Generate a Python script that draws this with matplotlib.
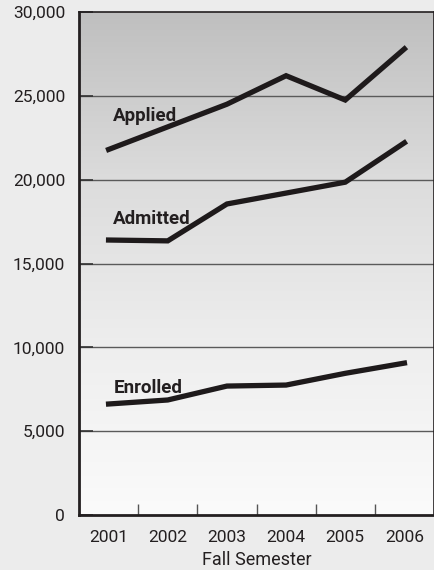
import numpy as np
import matplotlib
matplotlib.use("Agg")
import matplotlib.pyplot as plt
from matplotlib.colors import LinearSegmentedColormap

years = ["2001", "2002", "2003", "2004", "2005", "2006"]
applied = [21800, 23150, 24500, 26200, 24750, 27800]
admitted = [16400, 16350, 18550, 19200, 19850, 22200]
enrolled = [6620, 6860, 7690, 7750, 8450, 9060]
series_labels = ["Applied", "Admitted", "Enrolled"]
label_y = [23800, 17650, 7570]
yticks = [0, 5000, 10000, 15000, 20000, 25000, 30000]
xlabel = "Fall Semester"

plt.rcParams["font.family"] = ["Roboto", "DejaVu Sans"]

fig = plt.figure(figsize=(4.35, 5.7), dpi=100, facecolor="#ececec")
ax = fig.add_axes([79/435, 55/570, 355/435, 503/570])
x = np.arange(len(years))
ax.set_xlim(-0.5, len(years) - 0.5)
ax.set_ylim(0, 30000)

grad = np.linspace(0, 1, 256).reshape(-1, 1)
cmap = LinearSegmentedColormap.from_list("g", ["#fbfbfb", "#eeeeee", "#dcdcdc", "#bfbfbf"])
ax.imshow(grad, cmap=cmap, origin="lower", aspect="auto",
          extent=[-0.5, len(years) - 0.5, 0, 30000], zorder=0)

for yv in yticks[1:-1]:
    ax.axhline(yv, color="#5a5a5a", lw=1.0, zorder=1)

for data in (applied, admitted, enrolled):
    ax.plot(x, data, color="#1e1a1b", lw=3.8, solid_joinstyle="miter", zorder=3)

for lab, ly in zip(series_labels, label_y):
    ax.text(0.08, ly, lab, fontsize=13.5, fontweight="bold", color="#231f20",
            va="center", ha="left", zorder=4)

ax.set_yticks(yticks)
ax.set_yticklabels([f"{v:,}" for v in yticks])
ax.tick_params(axis="y", direction="in", length=10, width=1.2, color="#333333",
               labelsize=12.5, labelcolor="#231f20", pad=10)
ax.set_xticks(x)
ax.set_xticklabels(years)
ax.set_xticks(np.arange(0.5, len(years) - 0.5), minor=True)
ax.tick_params(axis="x", which="major", length=0, labelsize=12.5, labelcolor="#231f20", pad=11)
ax.tick_params(axis="x", which="minor", direction="in", length=8, width=1.0, color="#555555")
fig.text(256.5/435, 10/570, xlabel, fontsize=13, color="#231f20", ha="center", va="center")

for s in ("left", "bottom"):
    ax.spines[s].set_linewidth(2.0)
    ax.spines[s].set_color("#231f20")
for s in ("top", "right"):
    ax.spines[s].set_linewidth(1.2)
    ax.spines[s].set_color("#231f20")

fig.savefig("out.png", dpi=100, facecolor=fig.get_facecolor())
